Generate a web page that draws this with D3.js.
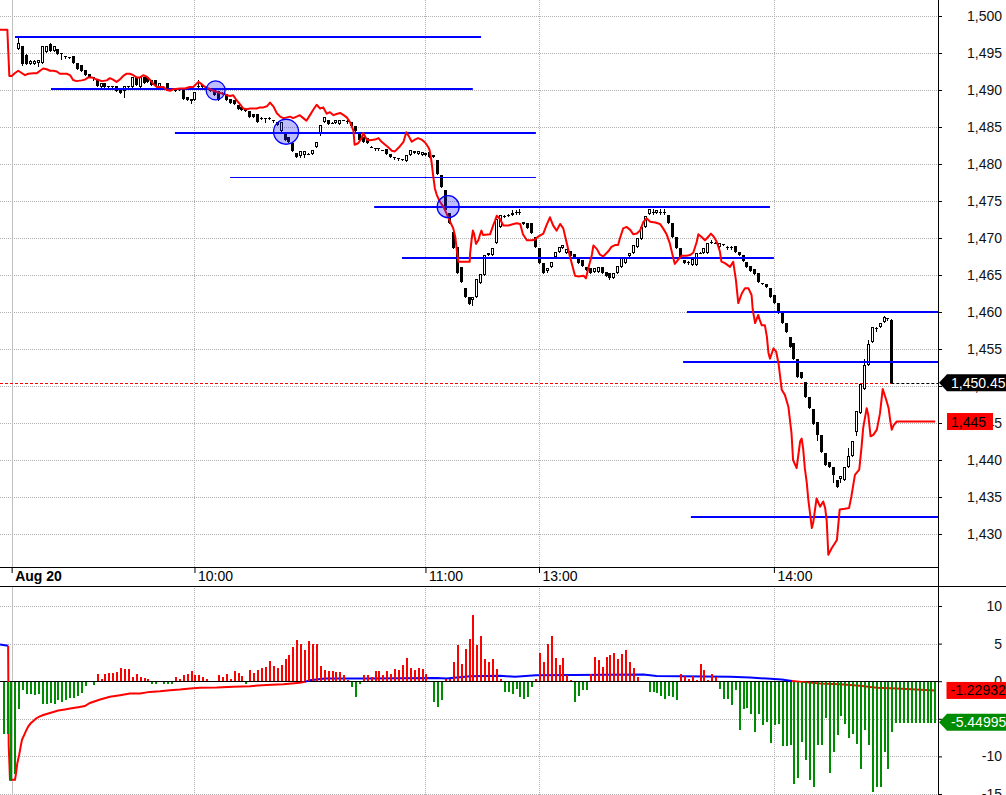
<!DOCTYPE html>
<html>
<head>
<meta charset="utf-8">
<script src="https://cdn.jsdelivr.net/npm/d3@7/dist/d3.min.js"></script>
<style>
html,body{margin:0;padding:0;background:#fff;}
svg{display:block;font-family:"Liberation Sans",Arial,sans-serif;}
</style>
</head>
<body>
<svg id="chart" width="1006" height="795"></svg>
<script>
// ================= DATA =================
const priceTicks = [1430,1435,1440,1445,1450,1455,1460,1465,1470,1475,1480,1485,1490,1495,1500];
const oscTicks = [10,5,0,-5,-10,-15];
const oscTickLabels = ["10","5","0","-5","-10","-15"];
const timeTickBars = [-1.7,45,104,133,193];
const timeTickLabels = ["Aug 20","10:00","11:00","13:00","14:00"];

const candleOpen = [
1495.6,1495.9,1494.7,1493.5,1493.5,1493.6,1493.7,1495.2,1496.2,1495.3,
1495.5,1495.0,1494.6,1494.5,1494.6,1493.6,1493.4,1492.7,1492.2,1491.7,
1491.4,1490.4,1491.0,1490.5,1490.5,1490.5,1490.2,1489.8,1490.5,1490.4,
1491.7,1490.4,1491.7,1491.7,1491.4,1491.4,1490.4,1490.4,1490.9,1490.2,
1490.0,1490.1,1490.1,1489.1,1488.5,1488.7,1490.6,1490.7,1490.1,1489.9,
1490.1,1489.8,1489.6,1489.4,1488.8,1488.7,1488.0,1487.7,1487.5,1487.1,
1486.8,1486.7,1486.2,1486.2,1486.2,1486.0,1485.7,1484.4,1484.1,1483.7,
1482.9,1481.5,1481.1,1481.2,1481.4,1481.4,1482.3,1484.1,1485.7,1485.9,
1485.6,1485.5,1485.4,1485.9,1485.86,1485.72,1485.1,1484.14,1483.6,1483.47,
1482.34,1482.12,1482.12,1481.89,1481.98,1481.35,1480.99,1480.77,1480.63,1480.45,
1481.22,1481.44,1481.35,1481.22,1481.53,1481.67,1481.22,1480.54,1478.51,1476.49,
1473.33,1470.86,1468.83,1466.13,1463.2,1461.98,1461.62,1461.98,1463.96,1465.0,
1467.7,1467.7,1469.37,1471.44,1472.97,1473.11,1473.11,1473.56,1473.56,1472.21,
1471.98,1471.98,1470.18,1468.6,1466.58,1465.59,1466.13,1467.48,1468.15,1468.6,
1467.93,1468.29,1467.84,1467.48,1467.03,1466.13,1465.9,1465.45,1465.45,1466.04,
1465.45,1465.23,1464.55,1465.23,1466.13,1466.58,1467.57,1467.93,1468.83,1469.82,
1471.44,1473.24,1473.5,1473.33,1473.56,1473.56,1473.11,1471.98,1470.09,1468.6,
1467.03,1466.8,1466.35,1466.35,1468.02,1468.02,1468.02,1469.5,1469.37,1468.83,
1469.19,1468.83,1468.83,1468.92,1468.15,1467.7,1466.8,1466.22,1465.77,1465.23,
1463.87,1463.74,1463.2,1462.3,1461.17,1459.82,1458.56,1456.67,1455.86,1453.6,
1451.94,1450.59,1448.56,1446.85,1445.18,1443.38,1440.9,1439.77,1439.1,1437.3,
1437.39,1437.3,1439.1,1440.54,1443.83,1446.4,1449.55,1452.84,1455.99,1457.8,
1458.02,1458.69,1459.14,1458.92];

const candleHigh = [
1497.2,1496.0,1494.8,1494.0,1494.0,1494.1,1495.9,1496.0,1496.3,1495.9,
1495.5,1495.0,1494.6,1494.5,1494.6,1493.6,1493.4,1492.7,1492.2,1491.7,
1491.4,1490.9,1491.0,1490.6,1490.6,1490.5,1490.2,1490.5,1490.6,1491.7,
1491.7,1491.7,1491.7,1491.7,1491.4,1491.4,1490.9,1490.5,1490.9,1490.3,
1490.1,1490.2,1490.1,1489.1,1488.8,1489.7,1491.4,1490.7,1490.4,1490.2,
1490.1,1489.8,1489.7,1489.4,1488.8,1488.7,1488.0,1487.7,1487.5,1487.1,
1486.8,1486.7,1486.3,1486.2,1486.3,1486.0,1485.7,1485.7,1484.1,1483.7,
1482.9,1481.5,1481.8,1481.7,1481.5,1481.9,1483.0,1485.3,1486.3,1485.9,
1485.7,1486.0,1486.0,1486.0,1485.9,1485.72,1485.1,1484.14,1483.6,1483.47,
1482.4,1482.15,1482.15,1481.95,1481.98,1481.35,1481.0,1480.8,1480.7,1481.22,
1481.95,1481.8,1481.76,1481.67,1481.53,1481.67,1481.22,1480.54,1478.51,1476.49,
1473.33,1470.86,1468.83,1466.13,1463.2,1461.98,1462.07,1464.41,1465.14,1467.7,
1467.93,1468.6,1472.52,1473.11,1473.05,1473.2,1473.78,1473.8,1473.9,1472.21,
1471.98,1471.98,1470.18,1468.6,1466.58,1465.9,1466.8,1468.15,1468.83,1469.05,
1468.47,1468.29,1467.84,1467.48,1467.03,1466.13,1465.9,1465.9,1466.04,1466.04,
1465.45,1465.23,1465.23,1466.22,1467.39,1467.39,1467.93,1469.05,1469.95,1471.53,
1472.97,1473.87,1473.9,1473.78,1473.9,1473.9,1473.11,1471.98,1470.09,1468.6,
1467.03,1466.85,1467.12,1467.93,1468.1,1468.6,1469.37,1469.7,1469.45,1469.28,
1469.25,1468.9,1468.9,1468.92,1468.15,1467.7,1466.8,1466.22,1465.77,1465.23,
1463.95,1463.74,1463.2,1462.3,1461.17,1459.82,1458.56,1456.67,1455.86,1453.6,
1451.94,1450.59,1448.56,1446.85,1445.18,1443.38,1440.9,1439.77,1439.1,1437.3,
1437.84,1439.01,1441.6,1442.61,1446.62,1450.27,1453.6,1456.2,1458.02,1458.0,
1458.56,1459.4,1459.2,1459.1];

const candleLow = [
1495.6,1493.4,1493.5,1493.5,1493.5,1493.2,1493.7,1495.2,1495.3,1495.3,
1494.9,1494.2,1494.3,1494.3,1493.6,1492.9,1492.5,1492.0,1491.7,1491.4,
1490.5,1490.4,1490.4,1490.4,1490.4,1489.8,1489.6,1489.1,1490.4,1490.4,
1490.7,1490.4,1491.0,1491.1,1490.7,1490.5,1490.4,1490.3,1490.1,1490.1,
1489.9,1490.0,1488.8,1488.6,1488.3,1488.7,1490.3,1490.4,1490.1,1489.9,
1489.3,1488.7,1489.5,1488.7,1488.2,1488.1,1487.5,1487.3,1487.1,1486.3,
1486.3,1485.7,1486.1,1485.7,1486.1,1485.7,1485.3,1484.4,1483.3,1483.0,
1481.7,1481.0,1480.9,1480.9,1481.3,1481.4,1482.3,1483.9,1485.7,1485.4,
1485.5,1485.5,1485.4,1485.9,1485.6,1485.14,1484.5,1483.24,1483.02,1482.79,
1482.3,1481.9,1481.9,1481.85,1481.35,1480.99,1480.7,1480.5,1480.6,1480.45,
1481.22,1481.44,1481.35,1481.22,1481.22,1480.99,1480.9,1478.65,1476.85,1473.78,
1472.07,1468.6,1465.23,1464.1,1461.98,1461.08,1460.95,1461.98,1463.96,1465.0,
1467.7,1467.7,1469.37,1471.44,1472.9,1473.0,1473.11,1473.3,1473.3,1471.89,
1471.31,1470.72,1468.83,1466.67,1465.23,1465.4,1466.13,1467.3,1468.15,1468.6,
1467.93,1467.57,1467.39,1466.58,1466.22,1465.68,1465.32,1465.45,1465.45,1465.23,
1464.86,1464.4,1464.55,1465.23,1466.13,1466.58,1467.57,1467.93,1468.83,1469.82,
1471.44,1473.24,1473.3,1473.33,1473.3,1473.3,1471.98,1470.09,1468.6,1467.48,
1466.58,1466.5,1466.35,1466.35,1467.95,1468.02,1468.02,1469.3,1469.3,1468.83,
1469.1,1468.5,1468.5,1468.15,1467.7,1466.89,1466.04,1465.59,1465.14,1464.1,
1463.8,1463.33,1461.98,1461.17,1459.91,1458.47,1457.34,1455.32,1453.6,1451.26,
1451.04,1448.56,1446.98,1444.86,1442.7,1441.13,1439.32,1439.0,1437.07,1436.4,
1437.0,1437.3,1439.1,1440.54,1443.4,1446.4,1449.55,1452.84,1455.99,1457.5,
1458.02,1458.69,1458.9,1450.45];

const candleClose = [
1496.4,1493.5,1493.5,1493.9,1493.9,1494.1,1495.9,1495.9,1495.3,1495.9,
1494.9,1494.8,1494.6,1494.3,1493.6,1492.9,1492.5,1492.0,1491.7,1491.7,
1490.5,1490.9,1490.4,1490.5,1490.5,1489.8,1489.6,1490.5,1490.5,1491.7,
1490.7,1491.7,1491.0,1491.1,1490.7,1490.5,1490.9,1490.4,1490.1,1490.2,
1490.0,1490.1,1488.8,1488.6,1488.8,1489.7,1490.4,1490.4,1490.4,1490.2,
1489.3,1488.7,1489.6,1488.7,1488.2,1488.1,1487.5,1487.3,1487.1,1486.3,
1486.3,1485.7,1486.2,1486.2,1486.2,1486.0,1485.3,1485.7,1483.3,1483.0,
1481.7,1481.0,1481.8,1481.7,1481.4,1481.9,1483.0,1485.3,1486.3,1485.4,
1485.6,1486.0,1486.0,1486.0,1485.86,1485.14,1484.5,1483.24,1483.02,1482.79,
1482.34,1482.12,1482.12,1481.89,1481.35,1480.99,1480.99,1480.77,1480.63,1481.22,
1481.89,1481.8,1481.76,1481.67,1481.22,1480.99,1480.9,1478.65,1476.85,1473.78,
1472.07,1468.6,1465.23,1464.1,1461.98,1461.08,1462.07,1464.41,1465.14,1467.7,
1467.93,1468.6,1472.52,1473.11,1472.97,1473.11,1473.42,1473.56,1473.56,1471.89,
1471.31,1470.72,1468.83,1466.67,1465.23,1465.9,1466.8,1468.15,1468.83,1469.05,
1468.47,1467.57,1467.39,1466.58,1466.22,1465.68,1465.32,1465.9,1466.04,1465.23,
1464.86,1464.55,1465.23,1466.22,1467.39,1467.39,1467.93,1469.05,1469.95,1471.53,
1472.97,1473.87,1473.45,1473.78,1473.56,1473.56,1471.98,1470.09,1468.6,1467.48,
1466.58,1466.8,1467.12,1467.93,1468.02,1468.6,1469.37,1469.5,1469.37,1469.28,
1469.19,1468.83,1468.83,1468.15,1467.7,1466.89,1466.04,1465.59,1465.14,1464.1,
1463.87,1463.33,1461.98,1461.17,1459.91,1458.47,1457.34,1455.32,1453.6,1451.26,
1451.04,1448.56,1446.98,1444.86,1443.38,1441.13,1439.32,1439.1,1437.97,1436.4,
1437.84,1439.01,1440.54,1442.61,1446.62,1450.27,1452.84,1455.68,1458.02,1457.9,
1458.56,1459.28,1459.14,1450.45];

// red overlay line: [bar index, price]
const overlayLine = [
[-4.67,1498.15],[-2.8,1498.15],[-2.29,1491.9],[-1.69,1491.9],[-0.84,1492.3],[0,1492.6],[0.86,1492.3],[1.71,1492.0],[2.56,1492.2],[3.84,1492.25],
[4.67,1492.25],[5.56,1492.6],[6.36,1492.9],[7.25,1492.8],[8.1,1492.6],[8.94,1492.6],[9.84,1492.5],[10.63,1492.2],[12.32,1492.2],[13.2,1492.0],
[13.6,1491.7],[14.0,1491.35],[14.9,1491.2],[16.2,1491.3],[17.0,1491.4],[17.9,1491.7],[18.8,1491.7],[19.6,1491.5],[20.5,1491.35],[21.3,1491.2],
[22.6,1491.3],[23.4,1491.6],[24.2,1491.4],[25.1,1491.1],[25.9,1491.4],[26.8,1491.9],[27.7,1492.2],[28.5,1492.2],[29.4,1492.0],[30.2,1491.7],
[31.1,1491.7],[31.9,1492.0],[32.8,1491.8],[33.7,1491.35],[34.5,1490.8],[35.4,1490.4],[37.1,1490.4],[37.9,1490.0],[38.8,1489.9],[39.6,1490.1],
[41.3,1490.2],[42.6,1490.2],[43.8,1490.4],[44.7,1490.4],[46.0,1491.1],[46.8,1490.8],[47.7,1490.4],[48.6,1490.2],[49.8,1489.9],[51.6,1489.6],
[52.4,1489.5],[53.3,1489.3],[54.1,1489.2],[54.9,1489.3],[55.7,1488.65],[56.6,1488.1],[57.5,1487.5],[58.3,1487.4],[59.2,1487.5],[60.9,1487.5],
[61.7,1487.65],[62.6,1487.65],[63.5,1487.8],[64.3,1488.3],[65.2,1487.75],[66.0,1486.9],[66.9,1486.4],[67.7,1486.2],[68.6,1486.3],[69.4,1486.4],
[70.2,1486.2],[71.1,1486.4],[71.9,1486.6],[72.8,1486.2],[73.6,1485.85],[74.5,1486.6],[75.3,1487.3],[76.2,1488.0],[77.1,1487.5],[77.9,1487.65],
[78.8,1486.8],[79.6,1487.0],[80.5,1486.6],[81.3,1486.75],[82.2,1486.9],[83.1,1486.6],[83.9,1486.3],[84.8,1485.6],[85.6,1484.5],[85.9,1482.6],
[86.8,1482.8],[87.7,1483.5],[88.1,1484.2],[89.0,1483.3],[89.8,1483.2],[91.1,1483.3],[92.0,1483.5],[92.8,1483.0],[93.7,1482.6],[94.5,1482.25],
[95.4,1481.8],[96.2,1481.7],[97.5,1482.4],[98.4,1483.0],[99.1,1484.3],[99.7,1483.8],[100.5,1483.0],[101.3,1483.3],[102.1,1483.5],[103.0,1483.3],
[103.9,1482.9],[104.7,1482.3],[105.1,1481.8],[105.6,1480.1],[106.0,1478.3],[106.4,1476.7],[106.9,1475.8],[107.7,1474.9],[108.6,1474.2],[109.4,1473.3],
[110.3,1472.2],[111.1,1471.3],[111.6,1470.2],[112.0,1468.4],[112.4,1466.8],[115.3,1466.8],[115.4,1467.9],[115.8,1469.8],[116.1,1471.0],[116.4,1470.6],
[116.9,1469.2],[117.5,1469.7],[117.9,1470.4],[118.3,1471.0],[118.7,1470.4],[120.5,1470.5],[121.3,1471.7],[121.8,1472.4],[122.2,1473.0],[123.0,1472.6],
[123.9,1471.7],[125.2,1471.7],[126.5,1471.9],[127.3,1472.0],[128.2,1471.9],[128.9,1470.5],[129.9,1469.7],[131.2,1469.7],[132.0,1469.8],[132.8,1470.2],
[134.1,1470.6],[134.9,1471.7],[135.8,1472.8],[136.6,1471.7],[137.5,1471.0],[138.4,1471.9],[139.2,1471.3],[140.1,1469.3],[140.9,1467.5],[141.6,1466.1],
[142.2,1464.9],[143.1,1464.8],[144.4,1464.9],[145.0,1464.55],[145.6,1465.9],[146.5,1467.7],[146.9,1469.0],[147.8,1468.5],[148.5,1467.8],[149.4,1467.5],
[150.7,1468.2],[151.5,1468.8],[152.4,1469.05],[153.2,1469.05],[153.7,1470.0],[154.5,1471.3],[155.4,1471.5],[156.3,1471.1],[157.1,1470.5],[158.0,1470.6],
[158.8,1471.0],[159.7,1472.2],[160.5,1472.65],[161.4,1472.2],[162.7,1472.1],[163.9,1471.9],[164.7,1471.3],[165.6,1470.5],[166.4,1469.3],[167.3,1467.3],
[167.7,1466.5],[168.6,1467.1],[169.4,1467.6],[170.7,1467.6],[171.6,1467.7],[172.4,1468.0],[173.3,1469.5],[173.7,1470.5],[174.6,1470.1],[175.4,1469.7],
[176.3,1470.2],[176.9,1470.6],[177.6,1470.2],[178.4,1469.5],[179.2,1468.2],[179.6,1466.8],[180.5,1466.6],[181.8,1466.1],[182.6,1466.8],[183.3,1464.3],
[183.9,1461.2],[184.8,1462.5],[185.6,1463.2],[186.5,1463.2],[187.3,1462.3],[187.6,1460.3],[188.2,1458.5],[189.0,1459.6],[189.4,1458.9],[189.9,1458.2],
[190.7,1458.2],[191.2,1456.7],[191.6,1454.5],[192.0,1453.7],[192.9,1455.1],[193.6,1454.6],[194.2,1453.0],[195.0,1449.5],[195.8,1448.8],[196.7,1447.2],
[197.5,1443.6],[197.9,1440.0],[198.8,1438.9],[199.7,1442.5],[200.1,1442.9],[200.5,1441.4],[200.9,1438.9],[201.4,1436.9],[201.8,1434.6],[202.7,1430.8],
[203.1,1431.7],[203.5,1433.3],[203.9,1434.8],[204.8,1433.7],[205.6,1434.4],[206.1,1433.5],[206.5,1431.7],[206.9,1427.2],[207.8,1428.1],[209.1,1429.2],
[209.8,1433.3],[211.1,1433.4],[212.2,1433.5],[212.8,1435.1],[213.7,1438.0],[214.8,1438.7],[215.4,1441.8],[215.8,1444.3],[216.7,1447.0],[217.1,1446.1],
[217.7,1443.2],[218.4,1443.4],[219.3,1444.1],[220.1,1446.3],[220.8,1449.6],[221.7,1448.1],[222.3,1447.0],[222.7,1445.4],[223.1,1444.1],[223.6,1444.7],
[224.4,1445.2],[234.2,1445.2]];

// blue horizontal levels
const levelStart = [-0.84, 8.35, 40.0, 54.1, 90.9, 98.0, 170.8, 169.8, 171.8];
const levelEnd   = [118.2, 116.1, 132.2, 132.2, 192.0, 193.0, 236, 236, 236];
const levelPrice = [1497.2, 1490.14, 1484.23, 1478.2, 1474.23, 1467.3, 1460.04, 1453.24, 1432.3];

// blue circle markers
const markerBar   = [50.4, 68.4, 109.8];
const markerPrice = [1489.95, 1484.36, 1474.23];

// oscillator histogram, starting at bar -4
const histStart = -4;
const histValues = [
-6.9,-6.9,-13.1,-12.2,
-3.6,-1.1,-1.6,-1.55,-1.7,-1.6,-2.9,-2.9,-2.7,-2.9,
-2.4,-2.6,-2.4,-2.1,-2.1,-1.9,-1.4,-0.5,0,-0.4,
0.9,0.35,1.0,1.15,1.1,1.25,1.7,1.6,1.6,0.6,
0.9,0.5,0.45,0.25,-0.3,-0.3,0,-0.3,-0.3,-0.3,
0.6,0.25,0.8,0.9,1.3,0.8,0.8,0.5,0.25,0,
0,0.8,0.5,0.9,0.35,1.3,1.1,0.65,-0.3,1.45,
1.1,1.55,1.8,1.9,2.7,2.0,1.7,2.1,2.9,3.5,
4.5,5.5,4.9,4.2,5.3,4.9,4.9,2.0,1.5,1.3,
1.3,1.2,1.2,0.8,0.1,-0.7,-2.0,-0.2,0.8,0.8,
0.6,1.3,1.3,0.8,1.3,1.0,1.6,1.5,2.1,3.1,
1.8,1.5,1.7,1.6,1.0,0,-2.65,-3.3,-2.4,0.25,
0.25,2.6,4.8,2.35,4.3,5.6,8.8,4.8,6.0,2.9,
2.6,2.9,1.6,0.35,-1.3,-1.3,-1.6,-0.85,-2.0,-2.3,
-2.0,-0.6,0.25,3.8,2.6,5.0,6.0,3.1,2.1,3.1,
0.8,0.1,-2.6,-1.9,-1.0,-1.1,1.0,3.2,2.8,1.9,
3.2,3.5,3.7,2.9,3.6,4.1,2.6,1.8,0.5,0,
0,-1.3,-1.3,-1.5,-1.9,-2.3,-1.9,-2.0,-2.4,0.9,
0.65,0.25,0.65,0.1,2.35,1.45,0.1,1.0,0.6,-0.9,
-2.2,-2.2,-3.05,-1.1,-6.4,-3.6,-3.4,-4.2,-6.6,-4.2,
-5.7,-5.3,-8.05,-5.75,-5.5,-8.5,-8.5,-8.3,-13.6,-12.7,
-7.9,-10.3,-13.05,-14.0,-8.4,-8.3,-4.8,-12.1,-9.25,-7.0,
-4.5,-5.5,-7.4,-6.9,-8.2,-11.6,-6.4,-8.4,-14.6,-14.0,
-13.9,-9.3,-11.5,-6.6,-5.4,-5.45,-5.45,-5.45,-5.45,-5.45,
-5.45,-5.45,-5.45,-5.45,-5.45];

// oscillator signal line: [bar index, value]
const signalLine = [
[-4.67,4.87],[-2.6,4.7],[-2.45,-8.5],[-2.12,-13.1],[-0.84,-13.1],[-0.59,-12.3],[-0.25,-10.9],[0.26,-9.7],[0.6,-8.7],[0.94,-7.8],
[1.46,-7.2],[1.97,-6.6],[2.56,-6.0],[3.17,-5.6],[3.84,-5.3],[4.52,-4.96],[5.37,-4.7],[6.39,-4.5],[7.66,-4.3],[8.94,-4.1],
[10.2,-3.9],[11.9,-3.76],[13.6,-3.6],[15.3,-3.45],[17.0,-3.3],[18.3,-2.9],[20.9,-2.43],[23.4,-2.08],[26.0,-1.86],[28.5,-1.64],
[31.1,-1.64],[33.6,-1.42],[36.2,-1.33],[38.7,-1.19],[41.3,-1.1],[43.9,-0.97],[46.4,-0.88],[50.7,-0.84],[54.9,-0.75],[59.2,-0.66],
[63.4,-0.49],[67.7,-0.4],[71.9,-0.22],[73.2,-0.09],[74.5,0.13],[78.3,0.35],[89.0,0.35],[106.9,0.44],[109.4,0.35],[115.4,0.66],
[123.0,0.72],[126.9,0.58],[132.2,0.8],[159.7,0.88],[163.0,0.7],[181.8,0.58],[186.9,0.49],[191.2,0.35],[195.0,0.22],[197.6,0.04],
[200.1,-0.09],[204.8,-0.31],[209.9,-0.4],[215.0,-0.62],[219.3,-0.88],[224.4,-0.97],[229.4,-1.1],[234.1,-1.23]];

// last-value labels
const lastClose = 1450.45;
const overlayLast = 1445.2;
const signalLast = -1.22932;
const histLast = -5.44995;

// ================= DRAWING =================
const svg = d3.select('#chart');
const FONT = '"Liberation Sans", Arial, sans-serif';
const W = 1006, axisX = 938;
const mainBottom = 567, bandBottom = 586, lowBottom = 795;

const x  = d3.scaleLinear().domain([0, 223]).range([18.3, 18.3 + 223 * 3.915]);
const yP = d3.scaleLinear().domain([1430, 1500]).range([534, 16]);
const yO = d3.scaleLinear().domain([-15, 10]).range([794, 606]);
const crisp = v => Math.round(v) + 0.5;

const defs = svg.append('defs');
defs.append('clipPath').attr('id', 'clipMain').append('rect')
  .attr('x', 0).attr('y', 0).attr('width', axisX).attr('height', mainBottom);
defs.append('clipPath').attr('id', 'clipLow').append('rect')
  .attr('x', 0).attr('y', bandBottom).attr('width', axisX).attr('height', lowBottom - bandBottom);

const GRID = '#b0b0b0';

// ---------- main panel ----------
const gMain = svg.append('g').attr('clip-path', 'url(#clipMain)');
gMain.selectAll('line.hg').data(priceTicks).join('line').attr('class', 'hg')
  .attr('x1', 0).attr('x2', axisX)
  .attr('y1', d => crisp(yP(d))).attr('y2', d => crisp(yP(d)))
  .attr('stroke', GRID).attr('stroke-dasharray', '1,1');
gMain.selectAll('line.vg').data(timeTickBars).join('line').attr('class', 'vg')
  .attr('x1', d => crisp(x(d))).attr('x2', d => crisp(x(d)))
  .attr('y1', 0).attr('y2', mainBottom)
  .attr('stroke', (d, i) => i === 0 ? '#c0c0c0' : GRID)
  .attr('stroke-dasharray', (d, i) => i === 0 ? null : '1,1');

// last close dashed line
const yLast = crisp(yP(lastClose));
gMain.append('line').attr('x1', 0).attr('x2', x(candleClose.length - 1))
  .attr('y1', yLast).attr('y2', yLast)
  .attr('stroke', '#ff0000').attr('stroke-dasharray', '3,2');
gMain.append('line').attr('x1', x(candleClose.length - 1)).attr('x2', axisX)
  .attr('y1', yLast).attr('y2', yLast)
  .attr('stroke', '#000').attr('stroke-dasharray', '3,2');

// candles
const idx = d3.range(candleOpen.length);
const gC = gMain.append('g');
gC.selectAll('line.wick').data(idx).join('line').attr('class', 'wick')
  .attr('x1', i => Math.round(x(i)) + 0.5).attr('x2', i => Math.round(x(i)) + 0.5)
  .attr('y1', i => Math.round(yP(candleHigh[i])))
  .attr('y2', i => Math.round(yP(candleLow[i])) + 1)
  .attr('stroke', '#000');
gC.selectAll('rect.body').data(idx).join('rect').attr('class', 'body')
  .each(function(i) {
    const o = candleOpen[i], c = candleClose[i];
    const cx = Math.round(x(i));
    const yt = Math.round(yP(Math.max(o, c))), yb = Math.round(yP(Math.min(o, c)));
    const h = yb - yt;
    const sel = d3.select(this);
    if (c > o && h >= 2) {
      sel.attr('x', cx - 0.5).attr('y', yt + 0.5).attr('width', 2).attr('height', h - 1)
        .attr('fill', '#fff').attr('stroke', '#000');
    } else {
      sel.attr('x', cx - 1).attr('y', yt).attr('width', 3).attr('height', Math.max(1, h))
        .attr('fill', '#000');
    }
  });

// blue levels
const levelWidths = [2, 2, 2, 1, 2, 2, 2, 2, 2];
gMain.selectAll('line.level').data(levelPrice).join('line').attr('class', 'level')
  .attr('x1', (d, i) => x(levelStart[i])).attr('x2', (d, i) => x(levelEnd[i]))
  .attr('y1', (d, i) => levelWidths[i] === 1 ? crisp(yP(d)) : Math.round(yP(d)))
  .attr('y2', (d, i) => levelWidths[i] === 1 ? crisp(yP(d)) : Math.round(yP(d)))
  .attr('stroke', '#0000ff').attr('stroke-width', (d, i) => levelWidths[i]);

// red overlay line
gMain.append('path').datum(overlayLine)
  .attr('d', d3.line().x(d => x(d[0])).y(d => yP(d[1])))
  .attr('fill', 'none').attr('stroke', '#ff0000').attr('stroke-width', 2)
  .attr('stroke-linejoin', 'round');

// circles
const markerRadius = [9.5, 12.5, 11];
gMain.selectAll('circle.mk').data(markerBar).join('circle').attr('class', 'mk')
  .attr('cx', d => x(d)).attr('cy', (d, i) => yP(markerPrice[i]))
  .attr('r', (d, i) => markerRadius[i])
  .attr('fill', 'rgba(40,40,255,0.3)').attr('stroke', '#0000ff').attr('stroke-width', 1.3);

// ---------- lower panel ----------
const gLow = svg.append('g').attr('clip-path', 'url(#clipLow)');
gLow.selectAll('line.hg').data(oscTicks.filter(d => d !== 0)).join('line').attr('class', 'hg')
  .attr('x1', 0).attr('x2', axisX)
  .attr('y1', d => crisp(yO(d))).attr('y2', d => crisp(yO(d)))
  .attr('stroke', GRID).attr('stroke-dasharray', '1,1');
gLow.selectAll('line.vg').data(timeTickBars).join('line').attr('class', 'vg')
  .attr('x1', d => crisp(x(d))).attr('x2', d => crisp(x(d)))
  .attr('y1', bandBottom).attr('y2', lowBottom)
  .attr('stroke', (d, i) => i === 0 ? '#c0c0c0' : GRID)
  .attr('stroke-dasharray', (d, i) => i === 0 ? null : '1,1');
gLow.append('line').attr('x1', 0).attr('x2', axisX)
  .attr('y1', crisp(yO(0))).attr('y2', crisp(yO(0))).attr('stroke', '#000');

// signal line coloured by sign
const segs = [];
for (let k = 1; k < signalLine.length; k++) {
  const col = signalLine[k][1] < 0 ? '#ff0000' : '#0000ff';
  if (segs.length && segs[segs.length - 1].col === col) segs[segs.length - 1].pts.push(signalLine[k]);
  else segs.push({col: col, pts: [signalLine[k - 1], signalLine[k]]});
}
gLow.selectAll('path.sig').data(segs).join('path').attr('class', 'sig')
  .attr('d', s => d3.line().x(d => x(d[0])).y(d => yO(d[1]))(s.pts))
  .attr('fill', 'none').attr('stroke', s => s.col).attr('stroke-width', 2);

// histogram
const y0 = Math.round(yO(0));
gLow.selectAll('rect.bar').data(histValues).join('rect').attr('class', 'bar')
  .attr('x', (d, i) => Math.round(x(histStart + i)))
  .attr('width', 2)
  .attr('y', d => d >= 0 ? Math.round(yO(d)) : y0 + 1)
  .attr('height', d => d >= 0 ? Math.max(0, y0 - Math.round(yO(d))) : Math.max(0, Math.round(yO(d)) - y0))
  .attr('fill', d => d >= 0 ? '#ff0000' : '#008c00');

// ---------- time axis band ----------
const gT = svg.append('g').attr('transform', `translate(0,${mainBottom})`)
  .call(d3.axisBottom(x).tickValues(timeTickBars).tickFormat((d, i) => timeTickLabels[i]).tickSize(6));
gT.select('.domain').remove();
gT.attr('font-family', FONT).attr('font-size', 14);
gT.selectAll('.tick line').attr('stroke', '#000');
gT.selectAll('.tick text').attr('x', 3).attr('y', 14).attr('dy', null)
  .attr('text-anchor', 'start').attr('fill', '#000')
  .attr('font-weight', (d, i) => i === 0 ? 'bold' : 'normal');
svg.append('line').attr('x1', 0).attr('x2', axisX).attr('y1', mainBottom + 0.5).attr('y2', mainBottom + 0.5).attr('stroke', '#000');
svg.append('line').attr('x1', 0).attr('x2', W).attr('y1', bandBottom + 0.5).attr('y2', bandBottom + 0.5).attr('stroke', '#000');

// ---------- right axes ----------
const gAP = svg.append('g').attr('transform', `translate(${axisX},0)`)
  .call(d3.axisRight(yP).tickValues(priceTicks).tickFormat(d3.format(',')).tickSize(4));
const gAO = svg.append('g').attr('transform', `translate(${axisX},0)`)
  .call(d3.axisRight(yO).tickValues(oscTicks).tickFormat((d, i) => oscTickLabels[i]).tickSize(4));
[gAP, gAO].forEach(g => {
  g.select('.domain').remove();
  g.attr('font-family', FONT).attr('font-size', 14);
  g.selectAll('.tick line').attr('stroke', '#000');
  g.selectAll('.tick text').attr('x', 64).attr('text-anchor', 'end').attr('fill', '#111');
});
svg.append('line').attr('x1', axisX + 0.5).attr('x2', axisX + 0.5).attr('y1', 0).attr('y2', lowBottom).attr('stroke', '#000');

// ---------- last value labels ----------
function arrowBox(yc, fill, txt, txtCol) {
  const h = 8.5;
  svg.append('path')
    .attr('d', `M${axisX + 1},${yc} L${axisX + 9},${yc - h} L${W},${yc - h} L${W},${yc + h} L${axisX + 9},${yc + h} Z`)
    .attr('fill', fill);
  svg.append('text').attr('x', axisX + 13).attr('y', yc).attr('dy', '0.36em')
    .attr('font-family', FONT).attr('font-size', 14).attr('fill', txtCol).text(txt);
}
function plainBox(yc, x0, x1, fill, txt, txtCol) {
  svg.append('rect').attr('x', x0).attr('y', yc - 8.5).attr('width', x1 - x0).attr('height', 17).attr('fill', fill);
  svg.append('text').attr('x', x0 + 4).attr('y', yc).attr('dy', '0.36em')
    .attr('font-family', FONT).attr('font-size', 14).attr('fill', txtCol).text(txt);
}
arrowBox(yP(lastClose), '#000', d3.format(',.2f')(lastClose), '#fff');
plainBox(yP(overlayLast), 947, 993, '#ff0000', d3.format(',.0f')(overlayLast), '#000');
plainBox(yO(signalLast), 946.5, W, '#ff0000', signalLast.toFixed(5), '#000');
arrowBox(yO(histLast), '#008c00', histLast.toFixed(5), '#fff');
</script>
</body>
</html>
